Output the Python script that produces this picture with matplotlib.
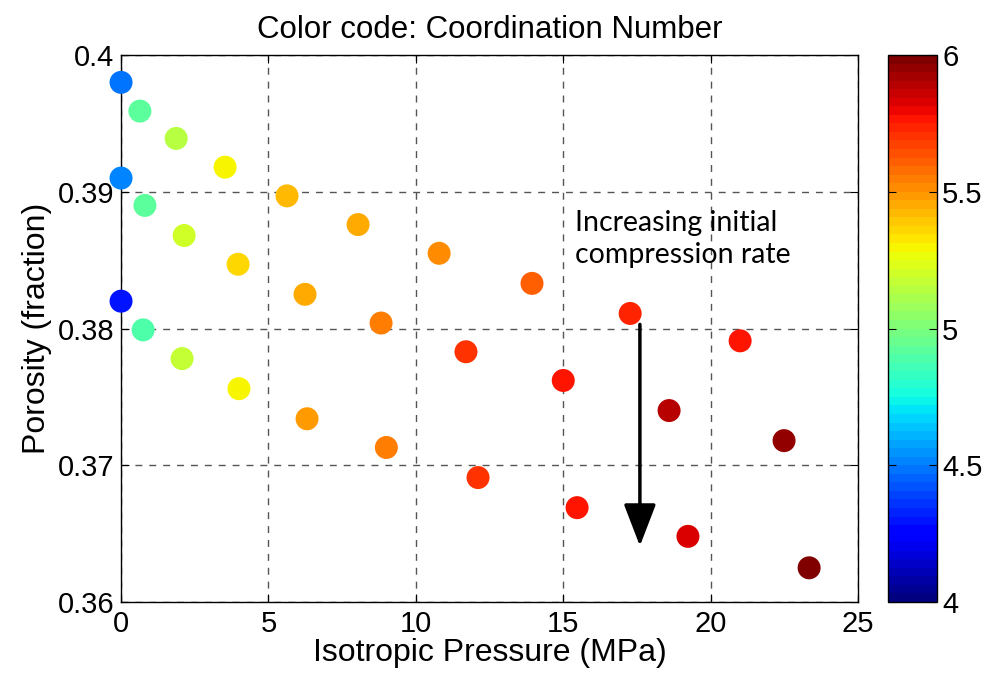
import numpy as np
import matplotlib
matplotlib.use('Agg')
import matplotlib.pyplot as plt

plt.rcParams['font.family'] = ['Liberation Sans', 'DejaVu Sans']

# three runs, one per initial compression rate
p_slow = [0.0, 0.64, 1.87, 3.53, 5.63, 8.04, 10.79, 13.94, 17.27, 21.0]
phi_slow = [0.3980, 0.3959, 0.3939, 0.3918, 0.3897, 0.3876, 0.3855, 0.3833, 0.3811, 0.3791]
cn_slow = [4.47, 4.91, 5.13, 5.29, 5.42, 5.45, 5.51, 5.61, 5.72, 5.78]

p_mid = [0.0, 0.81, 2.14, 3.97, 6.24, 8.82, 11.70, 15.0, 18.59, 22.49]
phi_mid = [0.3910, 0.3890, 0.3868, 0.3847, 0.3825, 0.3804, 0.3783, 0.3762, 0.3740, 0.3718]
cn_mid = [4.52, 4.93, 5.19, 5.35, 5.44, 5.55, 5.70, 5.75, 5.875, 5.95]

p_fast = [0.0, 0.75, 2.07, 4.0, 6.31, 9.0, 12.11, 15.47, 19.23, 23.34]
phi_fast = [0.3820, 0.3799, 0.3778, 0.3756, 0.3734, 0.3713, 0.3691, 0.3669, 0.3648, 0.3625]
cn_fast = [4.31, 4.875, 5.16, 5.31, 5.47, 5.55, 5.69, 5.78, 5.84, 5.98]

x = np.array(p_slow + p_mid + p_fast)
y = np.array(phi_slow + phi_mid + phi_fast)
cn = np.array(cn_slow + cn_mid + cn_fast)

jet64 = plt.get_cmap('jet', 64)

fig = plt.figure(figsize=(9.93, 6.80), dpi=100)
ax = fig.add_axes([0.1219, 0.1147, 0.7422, 0.8044])
cax = fig.add_axes([0.894, 0.1147, 0.050, 0.8044])

sc = ax.scatter(x, y, c=cn, cmap=jet64, vmin=4, vmax=6, s=274,
                edgecolors='none', zorder=3, clip_on=False)

ax.set_xlim(0, 25)
ax.set_ylim(0.36, 0.4)
ax.set_xticks([0, 5, 10, 15, 20, 25])
ax.set_yticks([0.36, 0.37, 0.38, 0.39, 0.4])
ax.set_yticklabels(['0.36', '0.37', '0.38', '0.39', '0.4'])
ax.grid(True, color='#555555', linestyle=(0, (5, 5)), linewidth=1.0, zorder=1)
ax.tick_params(direction='in', length=6, top=True, right=True, labelsize=21)
ax.tick_params(axis='x', pad=6)
ax.tick_params(axis='y', pad=5)
for s in ax.spines.values():
    s.set_linewidth(1.0)

ax.set_xlabel('Isotropic Pressure (MPa)', fontsize=23, labelpad=0)
ax.set_ylabel('Porosity (fraction)', fontsize=23, labelpad=4)
ax.set_title('Color code: Coordination Number', fontsize=22.5, pad=12)

ax.text(15.4, 0.3887, 'Increasing initial\ncompression rate', fontsize=20.5,
        family=['Lato', 'DejaVu Sans'], va='top', ha='left', linespacing=1.3)
ax.annotate('', xy=(17.6, 0.3641), xytext=(17.6, 0.3803),
            arrowprops=dict(arrowstyle='-|>,head_length=1.3,head_width=0.5',
                            lw=2.5, color='k', mutation_scale=20,
                            shrinkA=0, shrinkB=0))

cb = fig.colorbar(sc, cax=cax)
cb.set_ticks([4, 4.5, 5, 5.5, 6])
cb.set_ticklabels(['4', '4.5', '5', '5.5', '6'])
cb.ax.tick_params(direction='in', length=6, left=True, right=True, labelsize=21)
cb.outline.set_linewidth(1.0)

fig.savefig('out.png', dpi=100)
